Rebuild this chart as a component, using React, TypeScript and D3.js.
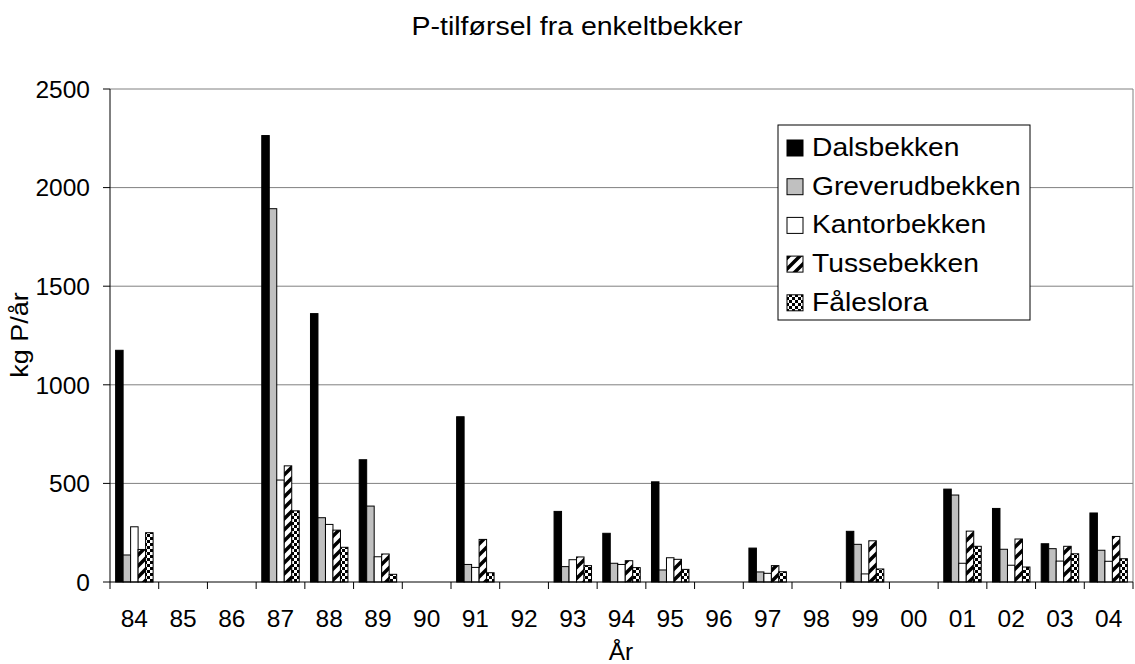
import React from "react";
import * as d3 from "d3";

const years = ["84","85","86","87","88","89","90","91","92","93","94","95","96","97","98","99","00","01","02","03","04"];
const seriesNames = ["Dalsbekken","Greverudbekken","Kantorbekken","Tussebekken","Fåleslora"];
const dalsbekken = [1175,null,null,2264,1361,620,null,838,null,358,247,508,null,172,null,257,null,471,373,194,350];
const greverudbekken = [137,null,null,1893,326,385,null,89,null,78,95,61,null,51,null,191,null,441,166,169,161];
const kantorbekken = [280,null,null,517,292,128,null,74,null,113,89,123,null,44,null,41,null,95,85,106,105];
const tussebekken = [165,null,null,589,263,142,null,216,null,127,108,115,null,83,null,209,null,258,218,181,231];
const faleslora = [250,null,null,361,176,39,null,47,null,83,73,64,null,52,null,66,null,181,76,143,118];
const seriesValues = [dalsbekken, greverudbekken, kantorbekken, tussebekken, faleslora];
const yTicks = [0,500,1000,1500,2000,2500];

const fills = ["#000000","#c0c0c0","#ffffff","url(#pTusse)","url(#pFale)"];
const FONT = "'Liberation Sans', Arial, sans-serif";

export default function App() {
  const W = 1135, H = 664;
  const left = 110, right = 1133, top = 89, bottom = 582;
  const x = d3.scaleBand<string>().domain(years).range([left, right]).padding(0);
  const bw = x.bandwidth();
  const xi = d3.scaleBand<string>().domain(seriesNames).range([bw * 0.75 / 6.5, bw * 5.75 / 6.5]).padding(0);
  const y = d3.scaleLinear().domain([0, 2500]).range([bottom, top]);

  const bars: any[] = [];
  seriesValues.forEach((vals, si) => {
    vals.forEach((v, i) => {
      if (v == null) return;
      const bx = (x(years[i]) as number) + (xi(seriesNames[si]) as number);
      bars.push(
        <rect key={`${si}-${i}`} x={bx} y={y(v)} width={xi.bandwidth()} height={y(0) - y(v)}
          fill={fills[si]} stroke="#000" strokeWidth={1} />
      );
    });
  });

  const legX = 778, legY = 125;
  return (
    <svg width={W} height={H} style={{ position: "absolute", left: 0, top: 0, background: "#fff" }} fontFamily={FONT}>
      <defs>
        <pattern id="pTusse" patternUnits="userSpaceOnUse" width={11} height={11}>
          <rect width={11} height={11} fill="#fff" />
          <path d="M-4,4 L4,-4 M0,11 L11,0 M7,15 L15,7" stroke="#000" strokeWidth={3.5} />
        </pattern>
        <pattern id="pFale" patternUnits="userSpaceOnUse" width={6} height={6}>
          <rect width={6} height={6} fill="#000" />
          <rect x={0} y={0} width={3} height={3} fill="#fff" />
          <rect x={3} y={3} width={3} height={3} fill="#fff" />
        </pattern>
      </defs>
      <rect x={0} y={0} width={W} height={H} fill="#fff" />
      <text x={577} y={35} textAnchor="middle" fontSize={25} textLength={331} lengthAdjust="spacingAndGlyphs">P-tilførsel fra enkeltbekker</text>

      {yTicks.filter(t => t > 0).map(t => (
        <line key={t} x1={left} x2={right} y1={y(t)} y2={y(t)} stroke="#808080" strokeWidth={1} />
      ))}
      <line x1={right} x2={right} y1={top} y2={bottom} stroke="#808080" strokeWidth={1} />

      {bars}

      <line x1={left} x2={left} y1={top} y2={bottom} stroke="#000" strokeWidth={1} />
      <line x1={left} x2={right} y1={bottom} y2={bottom} stroke="#000" strokeWidth={1} />
      {yTicks.map(t => (
        <g key={t}>
          <line x1={left - 7} x2={left} y1={y(t)} y2={y(t)} stroke="#000" />
          <text x={90} y={y(t)} dy="0.36em" textAnchor="end" fontSize={24.5}>{t}</text>
        </g>
      ))}
      {years.map((yr, i) => (
        <line key={"t" + i} x1={x(yr) as number} x2={x(yr) as number} y1={bottom} y2={bottom + 7} stroke="#000" />
      ))}
      <line x1={right} x2={right} y1={bottom} y2={bottom + 7} stroke="#000" />
      {years.map(yr => (
        <text key={"l" + yr} x={(x(yr) as number) + bw / 2} y={627} textAnchor="middle" fontSize={24.5}>{yr}</text>
      ))}
      <text x={621} y={660} textAnchor="middle" fontSize={24.5}>År</text>
      <text transform={`translate(28,335) rotate(-90) scale(1.1,1)`} textAnchor="middle" fontSize={24.5}>kg P/år</text>

      <rect x={legX} y={legY} width={252} height={195} fill="#fff" stroke="#000" strokeWidth={1} />
      {seriesNames.map((s, i) => {
        const base = 156 + i * 38.7;
        return (
          <g key={s}>
            <rect x={787} y={base - 16} width={16} height={16} fill={fills[i]} stroke="#000" strokeWidth={1} />
            <text transform={`translate(812,${base}) scale(1.13,1)`} fontSize={25}>{s}</text>
          </g>
        );
      })}
    </svg>
  );
}
